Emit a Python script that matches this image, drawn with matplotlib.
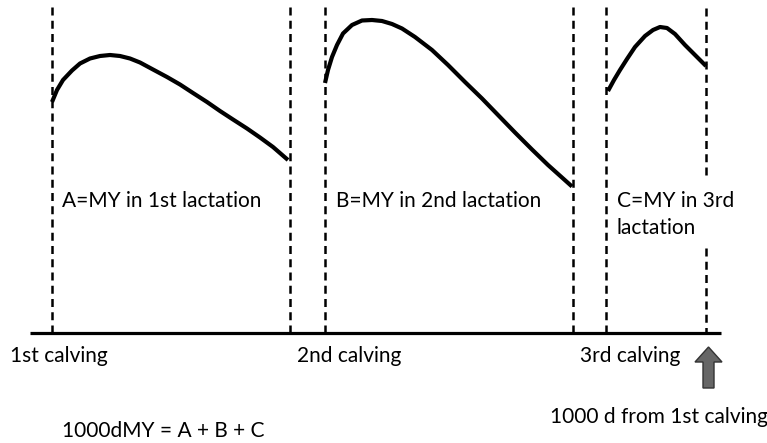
import matplotlib.pyplot as plt
from matplotlib.patches import FancyArrow

calving_x = [52, 325, 606]          # 1st, 2nd, 3rd calving
dry_x = [290, 573]                  # end of 1st and 2nd lactation
day1000_x = 706

lact1_x = [52, 57, 63, 72, 80, 90, 100, 110, 120, 130, 140, 153, 167, 180,
           193, 207, 220, 233, 247, 260, 273, 288]
lact1_y = [102, 90, 80, 70.5, 63.5, 58.5, 56, 55, 56, 58.5, 62.5, 69.5, 77, 84.5,
           93, 102, 111, 119.5, 128.5, 137.5, 147, 160]
lact2_x = [325, 328, 332, 337, 343, 352, 362, 372, 382, 392, 402, 415, 432, 448,
           465, 482, 498, 515, 532, 548, 572]
lact2_y = [83, 70, 57, 45, 33.5, 25, 20.5, 20, 21, 24, 28.5, 37, 50, 65,
           82, 98.5, 115, 132.5, 149.5, 165, 186.5]
lact3_x = [608, 614, 620, 627, 635, 645, 653, 660, 667, 675, 685, 695, 706]
lact3_y = [91, 80, 70, 59, 47, 36, 30, 27, 28, 34, 45, 55, 66]

calving_labels = ["1st calving", "2nd calving", "3rd calving"]
lact_labels = ["A=MY in 1st lactation", "B=MY in 2nd lactation", "C=MY in 3rd\nlactation"]

fig = plt.figure(figsize=(7.67, 4.43), dpi=100)
ax = fig.add_axes([0, 0, 1, 1])
ax.set_xlim(0, 767)
ax.set_ylim(443, 0)
ax.axis("off")

font = ["Lato", "DejaVu Sans"]
fs = 15
dash = (0, (3.2, 2.1))

for x in calving_x + dry_x:
    ax.plot([x, x], [7, 333], color="black", lw=1.8, linestyle=dash)
# 1000 d line, broken around the "lactation" label
ax.plot([day1000_x, day1000_x], [8, 178], color="black", lw=1.8, linestyle=dash)
ax.plot([day1000_x, day1000_x], [248, 333], color="black", lw=1.8, linestyle=dash)

# time axis
ax.plot([30, 721], [333, 333], color="black", lw=2.3, solid_capstyle="butt")

for xs, ys in [(lact1_x, lact1_y), (lact2_x, lact2_y), (lact3_x, lact3_y)]:
    ax.plot(xs, ys, color="black", lw=3, solid_joinstyle="round", solid_capstyle="butt")

# labels
for x, txt in zip([62, 336, 617], lact_labels):
    for i, line in enumerate(txt.split("\n")):
        ax.text(x, 207 + 27 * i, line, fontsize=fs, family=font, va="baseline", ha="left")
for x, txt in zip([10, 297, 580], calving_labels):
    ax.text(x, 362, txt, fontsize=fs, family=font, va="baseline", ha="left")

ax.add_patch(FancyArrow(708.5, 388, 0, -41, width=11, head_width=27, head_length=15,
                        length_includes_head=True, fc="#666666", ec="#333333", lw=1))

ax.text(550, 423, "1000 d from 1st calving", fontsize=fs, family=font, va="baseline", ha="left")
ax.text(62, 437, "1000dMY = A + B + C", fontsize=fs, family=font, va="baseline", ha="left")

plt.savefig("out.png", dpi=100)
